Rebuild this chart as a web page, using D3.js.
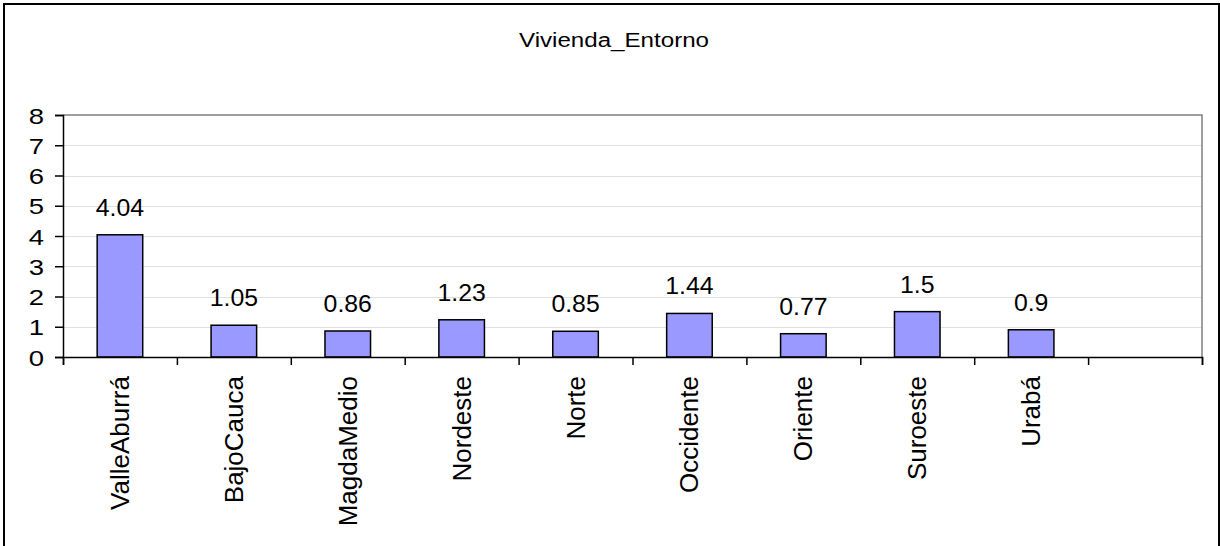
<!DOCTYPE html>
<html><head><meta charset="utf-8">
<script src="https://cdn.jsdelivr.net/npm/d3@7"></script>
<style>body{margin:0;background:#fff}svg{display:block}text{font-family:Arial,"Liberation Sans",sans-serif;fill:#000}</style>
</head><body>
<svg id="c" width="1220" height="546"></svg>
<script>
const title = "Vivienda_Entorno";
const categories = ["ValleAburrá","BajoCauca","MagdaMedio","Nordeste","Norte","Occidente","Oriente","Suroeste","Urabá",""];
const values = [4.04,1.05,0.86,1.23,0.85,1.44,0.77,1.5,0.9,null];
const yTicks = [0,1,2,3,4,5,6,7,8];

const svg = d3.select("#c");
const L=63, R=1202, T=115, B=357;
const x = d3.scaleBand().domain(categories.map((d,i)=>i)).range([L,R]).paddingInner(0.6).paddingOuter(0.3);
const y = d3.scaleLinear().domain([0,8]).range([B,T]);

// outer frame
svg.append("path").attr("d","M4,548V4H1219V548").attr("fill","none").attr("stroke","#000").attr("stroke-width",2);

// title
svg.append("text").attr("transform","translate(614,47) scale(1.15,1)").attr("text-anchor","middle").style("font-size","21px").text(title);

// gridlines
svg.append("g").selectAll("line").data(yTicks.filter(d=>d>0&&d<8)).join("line")
  .attr("x1",L).attr("x2",R).attr("y1",d=>Math.round(y(d))+0.5).attr("y2",d=>Math.round(y(d))+0.5)
  .attr("stroke","#e0e0e0").attr("stroke-width",1);
// plot border top/right
svg.append("path").attr("d",`M${L},${y(8)}H${R}V${B}`).attr("fill","none").attr("stroke","#808080").attr("stroke-width",1.5);

// bars
const data = categories.map((c,i)=>({c,i,v:values[i]})).filter(d=>d.v!=null);
svg.append("g").selectAll("rect").data(data).join("rect")
  .attr("x",d=>x(d.i)).attr("width",x.bandwidth())
  .attr("y",d=>y(d.v)).attr("height",d=>y(0)-y(d.v))
  .attr("fill","#9999ff").attr("stroke","#000").attr("stroke-width",1.5);
svg.append("g").selectAll("text").data(data).join("text")
  .attr("transform",d=>`translate(${x(d.i)+x.bandwidth()/2},${y(d.v)-19}) scale(1.08,1)`)
  .attr("text-anchor","middle").style("font-size","23px").text(d=>d.v);

// y axis
const ya = svg.append("g").attr("transform",`translate(${L},0)`)
  .call(d3.axisLeft(y).tickValues(yTicks).tickSize(8).tickFormat(d3.format("d")));
ya.select(".domain").attr("stroke","#000").attr("stroke-width",1.5);
ya.selectAll(".tick line").attr("stroke","#000").attr("stroke-width",1.5);
ya.selectAll(".tick text").attr("x",null).attr("dy",null)
  .attr("transform","translate(-19,8) scale(1.25,1)").attr("text-anchor","end")
  .style("font-size","22px").attr("font-family",null);

// x axis
const xb = d3.scaleLinear().domain([0,categories.length]).range([L,R]);
const xa = svg.append("g").attr("transform",`translate(0,${B})`)
  .call(d3.axisBottom(xb).tickValues(d3.range(categories.length+1)).tickSize(8).tickFormat(""));
xa.select(".domain").attr("stroke","#000").attr("stroke-width",1.5);
xa.selectAll(".tick line").attr("stroke","#000").attr("stroke-width",1.5);

// category labels
svg.append("g").selectAll("text").data(categories).join("text")
  .attr("transform",(d,i)=>`translate(${x(i)+x.bandwidth()/2+9},376) rotate(-90)`)
  .attr("text-anchor","end").style("font-size","26px").text(d=>d);
</script>
</body></html>
